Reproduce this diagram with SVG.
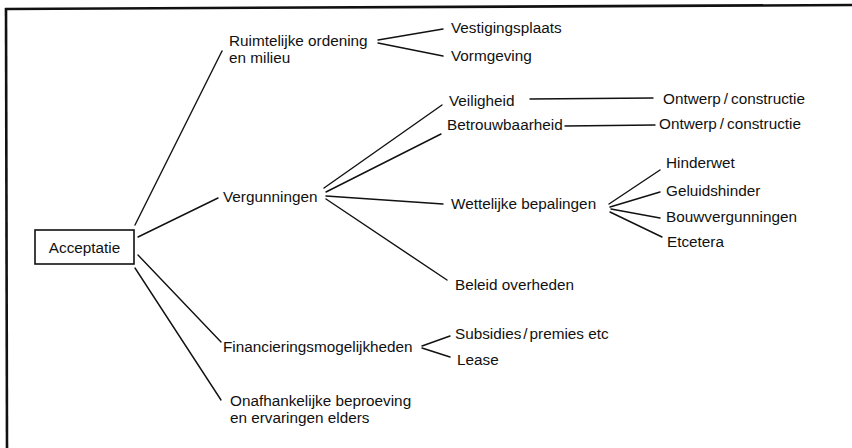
<svg xmlns="http://www.w3.org/2000/svg" width="852" height="448" viewBox="0 0 852 448">
  <style>
    text { font-family: "Liberation Sans", Arial, sans-serif; font-size: 15.3px; fill: #111; }
    .c { stroke: #111; stroke-width: 1.4; fill: none; stroke-linecap: round; }
    .frame { stroke: #111; stroke-width: 2.6; fill: none; }
    .box { stroke: #111; stroke-width: 1.6; fill: #fff; }
  </style>
  <rect width="852" height="448" fill="#fff"/>
  <g id="frame">
    <line class="frame" x1="5" y1="9" x2="852" y2="5"/>
    <line class="frame" x1="6" y1="8" x2="7" y2="448"/>
  </g>
  <g id="connectors">
    <!-- Acceptatie -->
    <line class="c" x1="135" y1="225" x2="222" y2="51"/>
    <line class="c" x1="138" y1="237" x2="218" y2="198"/>
    <line class="c" x1="138" y1="255" x2="221" y2="342"/>
    <line class="c" x1="135" y1="268" x2="221" y2="400"/>
    <!-- Ruimtelijke -->
    <line class="c" x1="378" y1="40" x2="443" y2="29"/>
    <line class="c" x1="378" y1="43" x2="443" y2="56"/>
    <!-- Vergunningen -->
    <line class="c" x1="324" y1="188" x2="442" y2="105"/>
    <line class="c" x1="326" y1="192" x2="441" y2="134"/>
    <line class="c" x1="326" y1="196" x2="443" y2="204"/>
    <line class="c" x1="326" y1="199" x2="447" y2="280"/>
    <!-- Veiligheid / Betrouwbaarheid -->
    <line class="c" x1="530" y1="99" x2="653" y2="98"/>
    <line class="c" x1="565" y1="126" x2="655" y2="125"/>
    <!-- Wettelijke -->
    <line class="c" x1="609" y1="204" x2="660" y2="170"/>
    <line class="c" x1="610" y1="207" x2="660" y2="192"/>
    <line class="c" x1="611" y1="209" x2="660" y2="218"/>
    <line class="c" x1="610" y1="212" x2="662" y2="237"/>
    <!-- Financierings -->
    <line class="c" x1="422" y1="346" x2="450" y2="336"/>
    <line class="c" x1="422" y1="348" x2="450" y2="357"/>
  </g>
  <g id="acceptatie">
    <rect class="box" x="35" y="230" width="99" height="34"/>
    <text x="84.5" y="253" text-anchor="middle">Acceptatie</text>
  </g>
  <g id="ruimtelijke">
    <text x="229" y="46">Ruimtelijke ordening</text>
    <text x="229" y="63">en milieu</text>
  </g>
  <g id="vestigingsplaats"><text x="451" y="33">Vestigingsplaats</text></g>
  <g id="vormgeving"><text x="451" y="61">Vormgeving</text></g>
  <g id="vergunningen"><text x="223" y="202">Vergunningen</text></g>
  <g id="veiligheid"><text x="449" y="106">Veiligheid</text></g>
  <g id="ontwerp1"><text x="663" y="104">Ontwerp<tspan dx="3">/</tspan><tspan dx="3">constructie</tspan></text></g>
  <g id="betrouwbaarheid"><text x="447" y="130">Betrouwbaarheid</text></g>
  <g id="ontwerp2"><text x="659" y="129">Ontwerp<tspan dx="3">/</tspan><tspan dx="3">constructie</tspan></text></g>
  <g id="wettelijke"><text x="451" y="209">Wettelijke bepalingen</text></g>
  <g id="hinderwet"><text x="666" y="168">Hinderwet</text></g>
  <g id="geluidshinder"><text x="666" y="196">Geluidshinder</text></g>
  <g id="bouwvergunningen"><text x="666" y="222">Bouwvergunningen</text></g>
  <g id="etcetera"><text x="667" y="247">Etcetera</text></g>
  <g id="beleid"><text x="455" y="290">Beleid overheden</text></g>
  <g id="financierings"><text x="223" y="352">Financieringsmogelijkheden</text></g>
  <g id="subsidies"><text x="455" y="339">Subsidies<tspan dx="2">/</tspan><tspan dx="2">premies etc</tspan></text></g>
  <g id="lease"><text x="457" y="365">Lease</text></g>
  <g id="onafhankelijke">
    <text x="230" y="406">Onafhankelijke beproeving</text>
    <text x="230" y="423">en ervaringen elders</text>
  </g>
</svg>
